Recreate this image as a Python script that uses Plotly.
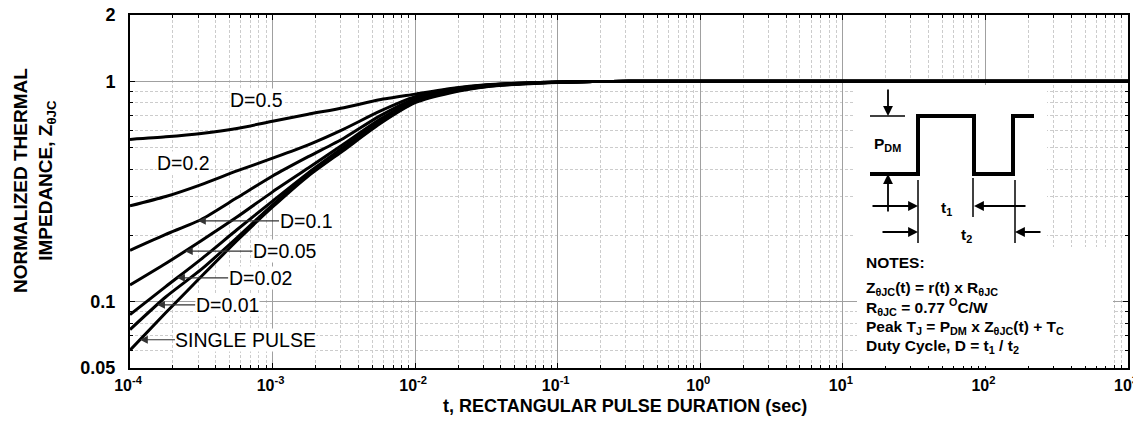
import numpy as np
import plotly.graph_objects as go

# ---------------- data ----------------
t_sec = [0.0001, 0.000178, 0.000316, 0.000562, 0.001, 0.00178, 0.00316, 0.00562,
         0.01, 0.0178, 0.0316, 0.0562, 0.1, 0.178, 0.316, 1, 10, 100, 1000]

z_d05 = [0.545, 0.560, 0.580, 0.611, 0.659, 0.709, 0.759, 0.825, 0.875, 0.928, 0.965, 0.982, 0.993, 0.998, 1.0, 1.0, 1.0, 1.0, 1.0]
z_d02 = [0.272, 0.300, 0.340, 0.392, 0.448, 0.515, 0.607, 0.730, 0.852, 0.922, 0.962, 0.981, 0.993, 0.998, 1.0, 1.0, 1.0, 1.0, 1.0]
z_d01 = [0.171, 0.202, 0.236, 0.296, 0.372, 0.455, 0.552, 0.695, 0.835, 0.915, 0.959, 0.980, 0.992, 0.998, 1.0, 1.0, 1.0, 1.0, 1.0]
z_d005 = [0.119, 0.149, 0.189, 0.242, 0.315, 0.404, 0.519, 0.670, 0.822, 0.908, 0.955, 0.978, 0.991, 0.997, 1.0, 1.0, 1.0, 1.0, 1.0]
z_d002 = [0.0873, 0.117, 0.156, 0.212, 0.286, 0.384, 0.503, 0.655, 0.812, 0.900, 0.951, 0.976, 0.990, 0.997, 1.0, 1.0, 1.0, 1.0, 1.0]
z_d001 = [0.0747, 0.105, 0.140, 0.195, 0.275, 0.376, 0.492, 0.645, 0.806, 0.895, 0.948, 0.975, 0.990, 0.997, 1.0, 1.0, 1.0, 1.0, 1.0]
z_single = [0.0602, 0.089, 0.130, 0.189, 0.269, 0.372, 0.487, 0.640, 0.800, 0.888, 0.945, 0.973, 0.989, 0.997, 1.0, 1.0, 1.0, 1.0, 1.0]

series_names = ["D=0.5", "D=0.2", "D=0.1", "D=0.05", "D=0.02", "D=0.01", "SINGLE PULSE"]
series_vals = [z_d05, z_d02, z_d01, z_d005, z_d002, z_d001, z_single]

x_tick_vals = [0.0001, 0.001, 0.01, 0.1, 1, 10, 100, 1000]
x_tick_text = ["10<sup>-4</sup>", "10<sup>-3</sup>", "10<sup>-2</sup>", "10<sup>-1</sup>",
               "10<sup>0</sup>", "10<sup>1</sup>", "10<sup>2</sup>", "10<sup>3</sup>"]
y_tick_vals = [0.05, 0.1, 1, 2]
y_tick_text = ["0.05", "0.1", "1", "2"]
x_minor_vals = [m * d for d in [0.0001, 0.001, 0.01, 0.1, 1, 10, 100] for m in [2, 3, 4, 5, 6, 7, 8, 9]]
y_minor_vals = [0.06, 0.07, 0.08, 0.09, 0.2, 0.3, 0.4, 0.5, 0.6, 0.7, 0.8, 0.9]

# arrow labels: (name, tip time, label-centre pixel offset)
arrow_labels = [("D=0.1", 0.0003, 108), ("D=0.05", 0.000243, 100), ("D=0.02", 0.000214, 83),
                ("D=0.01", 0.000155, 70), ("SINGLE PULSE", 0.0001175, 106)]

# ---------------- figure ----------------
# the page places the plot 8 px from the top-left corner (body margin)
OFF = 8
W, H = 1141 - OFF, 436 - 2 * OFF
PL, PR, PT, PB = 130, 1128, 15, 368          # plot area in screen pixels
L, R, T, B = PL - OFF, W - (PR - OFF), PT - OFF, H - (PB - OFF)
PW, PH = PR - PL, PB - PT


def xp(px):
    return (px - PL) / PW


def yp(py):
    return (PB - py) / PH


fig = go.Figure()
for name, vals in zip(series_names, series_vals):
    fig.add_trace(go.Scatter(x=t_sec, y=vals, mode="lines", name=name,
                             line=dict(color="black", width=3, shape="spline", smoothing=0.6),
                             showlegend=False))

BOLD = "Liberation Sans, Arial, sans-serif"
REG = "Liberation Sans, Arial, sans-serif"


def ptext(x, y, s, font, anchor="center", **kw):
    return dict(x=xp(x), y=yp(y), xref="paper", yref="paper", text=s, showarrow=False,
                xanchor=anchor, yanchor="middle", font=font, **kw)


regfont = dict(family=REG, size=19.5, color="black")
ann = []
ann.append(ptext(256, 100, "D=0.5", regfont, bgcolor="white", borderpad=0))
ann.append(ptext(183, 163, "D=0.2", regfont, bgcolor="white", borderpad=0))
for name, tt, off in arrow_labels:
    vals = series_vals[series_names.index(name)]
    ytip = np.interp(np.log10(tt), np.log10(t_sec), np.log10(vals))
    ann.append(dict(x=np.log10(tt), y=ytip, xref="x", yref="y", text=name, showarrow=True,
                    ax=off, ay=0, axref="pixel", ayref="pixel", arrowhead=2, arrowsize=1.3,
                    arrowwidth=1.2, arrowcolor="#333333", standoff=0, startstandoff=0,
                    xanchor="center", yanchor="middle",
                    font=regfont, bgcolor="white", borderpad=0))

ann.append(ptext(625, 406, "<b>t, RECTANGULAR PULSE DURATION (sec)</b>",
                 dict(family=BOLD, size=18, color="black")))
ann.append(ptext(34, 181, "<b>NORMALIZED THERMAL<br>IMPEDANCE, Z<sub>θJC</sub></b>",
                 dict(family=BOLD, size=19, color="black"), textangle=-90))


def arrow(tx, ty, dx, dy):
    return dict(x=xp(tx), y=yp(ty), xref="paper", yref="paper", text="", showarrow=True,
                ax=dx, ay=dy, axref="pixel", ayref="pixel", arrowhead=2, arrowsize=1.1,
                arrowwidth=1.8, arrowcolor="black", standoff=0)


ann += [arrow(888, 116, 0, -28), arrow(888, 174, 0, 39),
        arrow(918, 206, -47, 0), arrow(974, 206, 53, 0),
        arrow(918, 232, -37, 0), arrow(1015, 232, 27, 0)]

bfont = dict(family=BOLD, size=15.5, color="black")
ann += [ptext(887, 144, "<b>P<sub>DM</sub></b>", bfont),
        ptext(946, 209, "<b>t<sub>1</sub></b>", bfont),
        ptext(966, 235, "<b>t<sub>2</sub></b>", bfont)]
notes = ["NOTES:",
         "Z<sub>θJC</sub>(t) = r(t) x R<sub>θJC</sub>",
         "R<sub>θJC</sub> = 0.77 <sup>O</sup>C/W",
         "Peak T<sub>J</sub> = P<sub>DM</sub> x Z<sub>θJC</sub>(t) + T<sub>C</sub>",
         "Duty Cycle, D = t<sub>1</sub> / t<sub>2</sub>"]
note_y = [262, 288, 307, 327, 346]
for s, y in zip(notes, note_y):
    ann.append(ptext(864, y, "<b>" + s + "</b>", bfont, anchor="left"))

shapes = [
    dict(type="rect", xref="paper", yref="paper", x0=xp(853), x1=xp(1047), y0=yp(247), y1=yp(85),
         fillcolor="white", line=dict(width=0), layer="above"),
    dict(type="rect", xref="paper", yref="paper", x0=xp(857), x1=xp(1113), y0=yp(366), y1=yp(247),
         fillcolor="white", line=dict(width=0), layer="above"),
    dict(type="path", xref="paper", yref="paper", layer="above",
         path="M {} {} L {} {} L {} {} L {} {} L {} {} L {} {} L {} {} L {} {}".format(
             xp(870), yp(174), xp(918), yp(174), xp(918), yp(116), xp(974), yp(116),
             xp(974), yp(174), xp(1013), yp(174), xp(1013), yp(116), xp(1034), yp(116)),
         line=dict(color="black", width=4)),
    dict(type="line", xref="paper", yref="paper", x0=xp(870), x1=xp(905), y0=yp(116), y1=yp(116),
         line=dict(color="black", width=1.5), layer="above"),
    dict(type="line", xref="paper", yref="paper", x0=xp(918), x1=xp(918), y0=yp(180), y1=yp(243),
         line=dict(color="black", width=1.5), layer="above"),
    dict(type="line", xref="paper", yref="paper", x0=xp(973), x1=xp(973), y0=yp(178), y1=yp(217),
         line=dict(color="black", width=1.5), layer="above"),
    dict(type="line", xref="paper", yref="paper", x0=xp(1015), x1=xp(1015), y0=yp(180), y1=yp(243),
         line=dict(color="black", width=1.5), layer="above"),
]

axis_common = dict(showline=True, linecolor="black", linewidth=2, mirror="allticks",
                   ticks="inside", ticklen=5, tickcolor="black", tickwidth=1, automargin=False,
                   ticklabeloverflow="allow",
                   showgrid=True, gridcolor="#a0a0a0", gridwidth=1, zeroline=False)

fig.update_layout(
    width=W, height=H, margin=dict(l=L, r=R, t=T, b=B, autoexpand=False),
    paper_bgcolor="white", plot_bgcolor="white",
    annotations=ann, shapes=shapes,
    xaxis=dict(type="log", range=[-4, 3], tickmode="array", tickvals=x_tick_vals, ticktext=x_tick_text,
               tickfont=dict(family=BOLD, size=16, color="black", weight="bold"), ticklabelstandoff=2,
               ticklabelshift=-2,
               minor=dict(tickmode="array", tickvals=x_minor_vals, showgrid=True, gridcolor="#cccccc",
                          griddash="3px,2px", ticks="inside", ticklen=3, tickcolor="black"),
               **axis_common),
    yaxis=dict(type="log", range=[np.log10(0.05), np.log10(2)], tickmode="array", tickvals=y_tick_vals,
               ticktext=y_tick_text, tickfont=dict(family=BOLD, size=18, color="black", weight="bold"),
               ticklabelstandoff=9,
               minor=dict(tickmode="array", tickvals=y_minor_vals, showgrid=True, gridcolor="#cccccc",
                          griddash="3px,2px", ticks="inside", ticklen=3, tickcolor="black"),
               **axis_common),
)

fig.write_html("out.html")
